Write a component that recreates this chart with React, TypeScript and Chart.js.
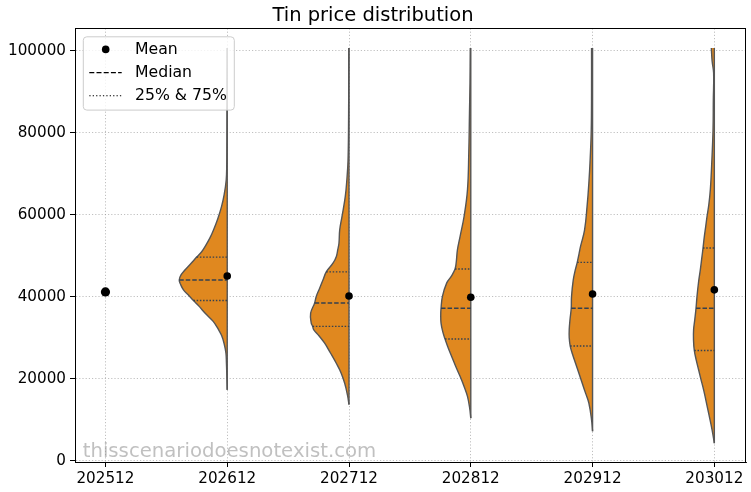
import React, { useEffect, useRef } from "react";
import { Chart, registerables } from "chart.js";

Chart.register(...registerables);

// ---------- data ----------
const categories = ["202512", "202612", "202712", "202812", "202912", "203012"];
const meanPrices = [41200, 45100, 40200, 39900, 40700, 41700];
const q1Prices = [null, 39100, 32800, 29700, 28000, 26900];
const medianPrices = [null, 44100, 38500, 37200, 37200, 37200];
const q3Prices = [null, 49700, 46100, 46800, 48400, 51900];
const yTickValues = [0, 20000, 40000, 60000, 80000, 100000];

// violin profiles: price levels (ascending) and half-violin density at each level
const prices202612 = [17300, 20000, 24000, 26300, 28500, 30500, 32000, 34000, 36000, 37800, 39100, 40500, 41700, 43000, 44100, 45400, 46600, 48200, 49700, 51000, 52300, 54500, 56300, 59000, 62000, 65000, 68500, 72000, 78000, 86000, 95000, 100700];
const density202612 = [0, 0.3, 0.8, 1.3, 3, 5.5, 8.7, 14, 22, 28.5, 33.7, 39, 43.7, 46.5, 47.9, 46, 42, 36, 30.5, 25.5, 22, 17, 13.7, 9.5, 5.7, 3, 1, 0.5, 0.3, 0.2, 0.1, 0];

const prices202712 = [13700, 16000, 18900, 21500, 23800, 26300, 28700, 30500, 32000, 32800, 33600, 36000, 38500, 40100, 42000, 44100, 46100, 48200, 49800, 51500, 53100, 56300, 59600, 64500, 69000, 73000, 80000, 90000, 100700];
const density202712 = [0, 1.5, 4.3, 8, 12.7, 18.5, 24.3, 30, 35.3, 36.3, 37.7, 38.3, 34.3, 32.7, 29.5, 26, 22.7, 16, 12.7, 11.2, 10, 9.3, 7, 3.7, 2, 1, 0.5, 0.3, 0.2];

const prices202812 = [10400, 13000, 15700, 18000, 20600, 23000, 25400, 27500, 29700, 31500, 33600, 35500, 37200, 40100, 43400, 45000, 46800, 48500, 51500, 54700, 59600, 66100, 75000, 84800, 92000, 100700];
const density202812 = [0, 1.2, 3.3, 6.5, 10.7, 15, 19, 22.5, 25.7, 28, 29.7, 30, 29.7, 28.3, 24, 19.5, 15.7, 14.5, 13.3, 10.7, 6.7, 3.3, 2, 1.3, 0.8, 0.5];

const prices202912 = [7200, 10000, 14100, 16500, 18900, 21500, 23800, 26000, 28000, 30000, 32000, 34500, 37200, 40100, 44100, 46500, 48400, 50500, 52300, 56300, 62000, 67700, 74000, 80700, 90000, 100700];
const density202912 = [0, 1, 3.7, 7, 10.3, 13.8, 17, 20, 22.3, 23.3, 23.3, 22.5, 21.3, 21, 19.3, 17.3, 15.3, 13.5, 12, 8, 5.5, 3.7, 2.3, 1.3, 1, 1];

const prices203012 = [4300, 7600, 11600, 14500, 17300, 20000, 22200, 24500, 26900, 29500, 32000, 34500, 37200, 40100, 43500, 46600, 49500, 51900, 54700, 57000, 59600, 62500, 66100, 72000, 80700, 88000, 94600, 97500, 100700];
const density203012 = [0, 2.3, 5.7, 8.2, 10.7, 13.5, 15.7, 18, 20, 20.8, 20.7, 19.5, 18.3, 17.3, 15.8, 14, 12.5, 11.3, 10, 8.7, 7.3, 5.5, 4, 2.7, 1.3, 1, 0.7, 2.2, 3];

const legendLabels = ["Mean", "Median", "25% & 75%"];
const titleText = "Tin price distribution";
const watermarkText = "thisscenariodoesnotexist.com";

// ---------- styles ----------
const FONT = "'DejaVu Sans', 'Liberation Sans', sans-serif";
const DENSITY_SCALE = 1 / 121.6;
const FILL = "#e0881f";
const OUTLINE = "#555555";
const INNER = "#34404f";
const GRID = "rgba(150,150,150,0.75)";

const profiles = [
  { cat: 1, prices: prices202612, density: density202612 },
  { cat: 2, prices: prices202712, density: density202712 },
  { cat: 3, prices: prices202812, density: density202812 },
  { cat: 4, prices: prices202912, density: density202912 },
  { cat: 5, prices: prices203012, density: density203012 },
];

function buildDatasets() {
  const ds: any[] = [];
  ds.push({
    type: "line",
    label: "Mean",
    data: meanPrices.map((m, i) => ({ x: i, y: m })),
    showLine: false,
    pointRadius: meanPrices.map((_, i) => (i === 0 ? 4.6 : 3.8)),
    pointBackgroundColor: "#000",
    pointBorderColor: "#000",
    pointBorderWidth: 0,
    fill: false,
    order: 0,
  });
  profiles.forEach((p) => {
    const edge = (v: number) => p.cat - p.density[p.prices.indexOf(v)] * DENSITY_SCALE;
    const qs = [q1Prices[p.cat] as number, medianPrices[p.cat] as number, q3Prices[p.cat] as number];
    qs.forEach((v, k) => {
      ds.push({
        type: "line",
        data: [
          { x: edge(v), y: v },
          { x: p.cat, y: v },
        ],
        borderColor: INNER,
        borderWidth: 1.4,
        borderDash: k === 1 ? [4.5, 2] : [1.5, 1.7],
        pointRadius: 0,
        fill: false,
        order: 1,
      });
    });
    ds.push({
      type: "line",
      data: [
        { x: p.cat, y: p.prices[0] },
        { x: p.cat, y: p.prices[p.prices.length - 1] },
      ],
      borderColor: OUTLINE,
      borderWidth: 1.4,
      pointRadius: 0,
      fill: false,
      order: 2,
    });
    ds.push({
      type: "line",
      indexAxis: "y",
      data: p.prices.map((v, k) => ({ x: p.cat - p.density[k] * DENSITY_SCALE, y: v })),
      borderColor: OUTLINE,
      borderWidth: 1.4,
      backgroundColor: FILL,
      fill: { value: p.cat },
      tension: 0.4,
      pointRadius: 0,
      order: 3,
    });
  });
  return ds;
}

const watermarkPlugin = {
  id: "watermark",
  afterDatasetsDraw(chart: any) {
    const { ctx, chartArea } = chart;
    ctx.save();
    ctx.font = `19.7px ${FONT}`;
    ctx.fillStyle = "rgba(140,140,140,0.55)";
    ctx.textBaseline = "alphabetic";
    ctx.textAlign = "left";
    ctx.fillText(watermarkText, chartArea.left + 7.7, chartArea.bottom - 5.5);
    ctx.restore();
  },
};

const framePlugin = {
  id: "frame",
  afterDatasetsDraw(chart: any) {
    const { ctx, chartArea } = chart;
    const l = Math.round(chartArea.left) + 0.5;
    const t = Math.round(chartArea.top) + 0.5;
    const r = Math.round(chartArea.right) - 0.5;
    const b = Math.round(chartArea.bottom) + 0.5;
    ctx.save();
    ctx.strokeStyle = "#000";
    ctx.lineWidth = 1;
    ctx.strokeRect(l, t, r - l, b - t);
    ctx.restore();
  },
};

const legendPlugin = {
  id: "boxLegend",
  afterDatasetsDraw(chart: any) {
    const { ctx, chartArea } = chart;
    const x0 = chartArea.left + 8.3;
    const y0 = chartArea.top + 8.4;
    const w = 151;
    const h = 73.3;
    const r = 3.5;
    ctx.save();
    ctx.beginPath();
    ctx.moveTo(x0 + r, y0);
    ctx.arcTo(x0 + w, y0, x0 + w, y0 + h, r);
    ctx.arcTo(x0 + w, y0 + h, x0, y0 + h, r);
    ctx.arcTo(x0, y0 + h, x0, y0, r);
    ctx.arcTo(x0, y0, x0 + w, y0, r);
    ctx.closePath();
    ctx.fillStyle = "rgba(255,255,255,0.8)";
    ctx.fill();
    ctx.strokeStyle = "#cccccc";
    ctx.lineWidth = 1;
    ctx.stroke();

    legendLabels.forEach((label, k) => {
      const cy = y0 + 12.6 + k * 23.2;
      ctx.save();
      if (k === 0) {
        ctx.beginPath();
        ctx.fillStyle = "#000";
        ctx.arc(x0 + 22.4, cy, 3.8, 0, Math.PI * 2);
        ctx.fill();
      } else {
        ctx.beginPath();
        ctx.strokeStyle = "#000";
        ctx.lineWidth = 1.1;
        ctx.setLineDash(k === 1 ? [5, 2.2] : [1.3, 2.1]);
        ctx.moveTo(x0 + 6, cy);
        ctx.lineTo(x0 + 38.4, cy);
        ctx.stroke();
      }
      ctx.restore();
      ctx.font = `15.7px ${FONT}`;
      ctx.fillStyle = "#000";
      ctx.textBaseline = "middle";
      ctx.textAlign = "left";
      ctx.fillText(label, x0 + 51.7, cy + 0.5);
    });
    ctx.restore();
  },
};

export default function App() {
  const ref = useRef<HTMLCanvasElement>(null);

  useEffect(() => {
    if (!ref.current) return;
    const chart = new Chart(ref.current, {
      type: "line",
      data: { datasets: buildDatasets() },
      options: {
        responsive: false,
        animation: false,
        devicePixelRatio: 1,
        layout: { padding: { left: 0, right: 5, top: 0, bottom: 0 } },
        plugins: {
          legend: { display: false },
          tooltip: { enabled: false },
          title: {
            display: true,
            text: titleText,
            color: "#000",
            font: { family: FONT, size: 19.5, weight: "normal" },
            padding: { top: 4.5, bottom: 0.5 },
          },
        },
        scales: {
          x: {
            type: "linear",
            min: -0.25,
            max: 5.26,
            afterBuildTicks: (s: any) => {
              s.ticks = categories.map((_, i) => ({ value: i }));
            },
            afterFit: (s: any) => {
              s.height = 30;
            },
            ticks: {
              callback: (v: any) => categories[v] ?? "",
              color: "#000",
              font: { family: FONT, size: 15.2 },
              padding: 3,
              maxRotation: 0,
              autoSkip: false,
            },
            grid: {
              color: GRID,
              lineWidth: 0.8,
              tickColor: "#000",
              tickLength: 5,
              tickWidth: 1,
            },
            border: { display: true, color: "#000", width: 1, dash: [1.2, 2] },
          },
          y: {
            type: "linear",
            min: -300,
            max: 105500,
            afterBuildTicks: (s: any) => {
              s.ticks = yTickValues.map((v) => ({ value: v }));
            },
            afterFit: (s: any) => {
              s.width = 75;
            },
            ticks: {
              callback: (v: any) => String(v),
              color: "#000",
              font: { family: FONT, size: 15.2 },
              padding: 4,
            },
            grid: {
              color: GRID,
              lineWidth: 0.8,
              tickColor: "#000",
              tickLength: 5,
              tickWidth: 1,
            },
            border: { display: true, color: "#000", width: 1, dash: [1.2, 2] },
          },
        },
      } as any,
      plugins: [watermarkPlugin, framePlugin, legendPlugin],
    });
    return () => chart.destroy();
  }, []);

  return (
    <div style={{ position: "fixed", left: 0, top: 0, width: 751, height: 492, background: "#fff" }}>
      <canvas ref={ref} width={751} height={492} style={{ display: "block" }} />
    </div>
  );
}
